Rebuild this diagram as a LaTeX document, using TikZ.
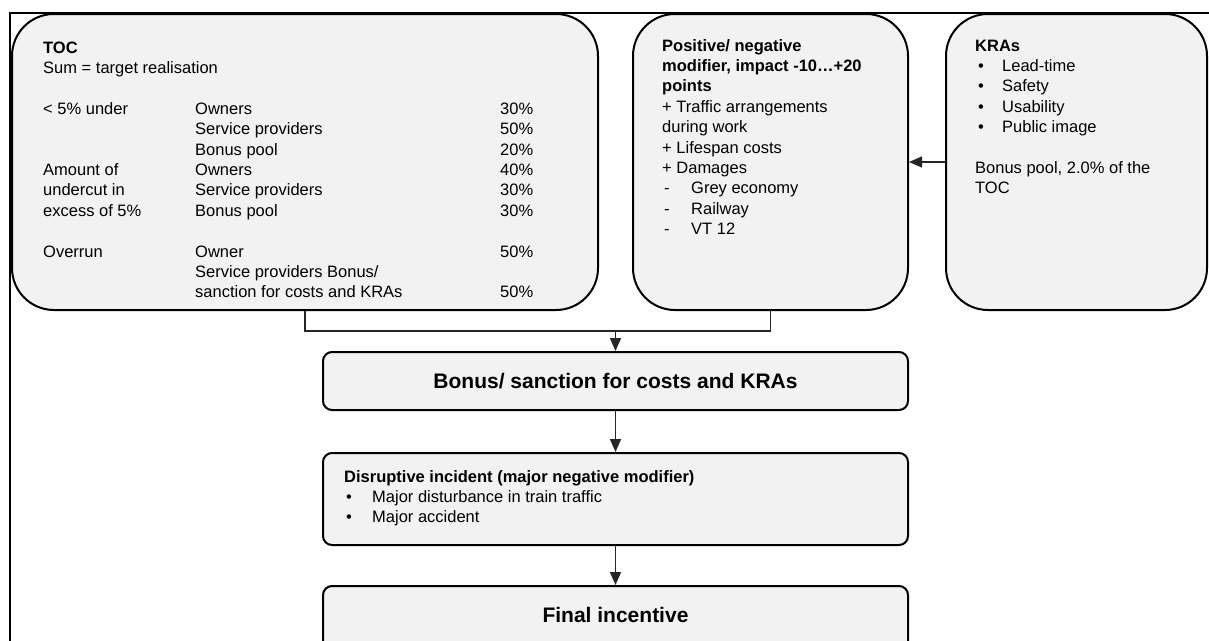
\documentclass[tikz,border=0pt]{standalone}
\usepackage{fontspec}
\setmainfont{Liberation Sans}
\usetikzlibrary{arrows.meta}
\definecolor{boxfill}{HTML}{F2F2F2}
\newcommand{\dashit}{\makebox[29pt][l]{\hspace{2pt}-}}
\newcommand{\bulk}{\makebox[27pt][l]{\hspace{3pt}\textbullet}}
\newcommand{\buld}{\makebox[28pt][l]{\hspace{2pt}\textbullet}}
\begin{document}
\begin{tikzpicture}[x=1pt,y=-1pt,
  bigbox/.style={draw=black, line width=2pt, fill=boxfill, rounded corners=42pt, inner sep=0pt},
  smallbox/.style={draw=black, line width=2pt, fill=boxfill, rounded corners=9pt, inner sep=0pt},
  txt/.style={inner sep=0pt, anchor=base west, font=\fontsize{16.5}{20.4}\selectfont},
  bigtxt/.style={font=\fontsize{21}{25}\selectfont\bfseries},
  conn/.style={draw=black!85, line width=1.5pt},
  arr/.style={conn, -{Triangle[length=13pt,width=11pt]}},
]
\useasboundingbox (0,0) rectangle (1209,640);
\clip (0,0) rectangle (1209,640);
\fill[white] (0,0) rectangle (1209,640);
\draw[line width=2pt] (10,645) -- (10,12.5) -- (1215,12.5);

% big boxes
\node[bigbox, minimum width=586pt, minimum height=296pt] (toc) at (305,162) {};
\node[bigbox, minimum width=275pt, minimum height=296pt] (pos) at (770.5,162) {};
\node[bigbox, minimum width=261pt, minimum height=296pt] (kra) at (1076.5,162) {};

% lower boxes
\node[smallbox, minimum width=585pt, minimum height=58pt, bigtxt] (bonus) at (615.5,381) {Bonus/ sanction for costs and KRAs};
\node[smallbox, minimum width=585pt, minimum height=92pt] (dis) at (615.5,499) {};
\node[smallbox, minimum width=585pt, minimum height=80pt] (fin) at (615.5,626) {};
\node[bigtxt, inner sep=0pt] (fintxt) at (615.5,615) {Final incentive};

% texts
\node[txt] (toct) at (43,53) {\begin{tabular}[t]{@{}p{152pt}@{}p{305pt}@{}l@{}}
\textbf{TOC} & & \\
\multicolumn{3}{@{}l@{}}{Sum = target realisation}\\
 & & \\
< 5\% under & Owners & 30\%\\
 & Service providers & 50\%\\
 & Bonus pool & 20\%\\
Amount of & Owners & 40\%\\
undercut in & Service providers & 30\%\\
excess of 5\% & Bonus pool & 30\%\\
 & & \\
Overrun & Owner & 50\%\\
 & Service providers Bonus/ & \\
 & sanction for costs and KRAs & 50\%
\end{tabular}};

\node[txt] (post) at (662,51) {\begin{tabular}[t]{@{}l@{}}
\textbf{Positive/ negative}\\
\textbf{modifier, impact -10…+20}\\
\textbf{points}\\
+ Traffic arrangements\\
during work\\
+ Lifespan costs\\
+ Damages\\
\dashit Grey economy\\
\dashit Railway\\
\dashit VT 12
\end{tabular}};

\node[txt] (krat) at (975,51) {\begin{tabular}[t]{@{}l@{}}
\textbf{KRAs}\\
\bulk Lead-time\\
\bulk Safety\\
\bulk Usability\\
\bulk Public image\\
\\
Bonus pool, 2.0\% of the\\
TOC
\end{tabular}};

\node[txt] (dist) at (344,482) {\begin{tabular}[t]{@{}l@{}}
\textbf{Disruptive incident (major negative modifier)}\\
\buld Major disturbance in train traffic\\
\buld Major accident
\end{tabular}};

% connectors
\coordinate (jn) at (615.5,331);
\draw[conn] (toc.south) |- (jn) -| (pos.south);
\draw[arr] (jn) -- (bonus.north);
\draw[arr] (kra.west) -- (pos.east);
\draw[arr] (bonus.south) -- (dis.north);
\draw[arr] (dis.south) -- (fin.north);
\end{tikzpicture}
\end{document}
